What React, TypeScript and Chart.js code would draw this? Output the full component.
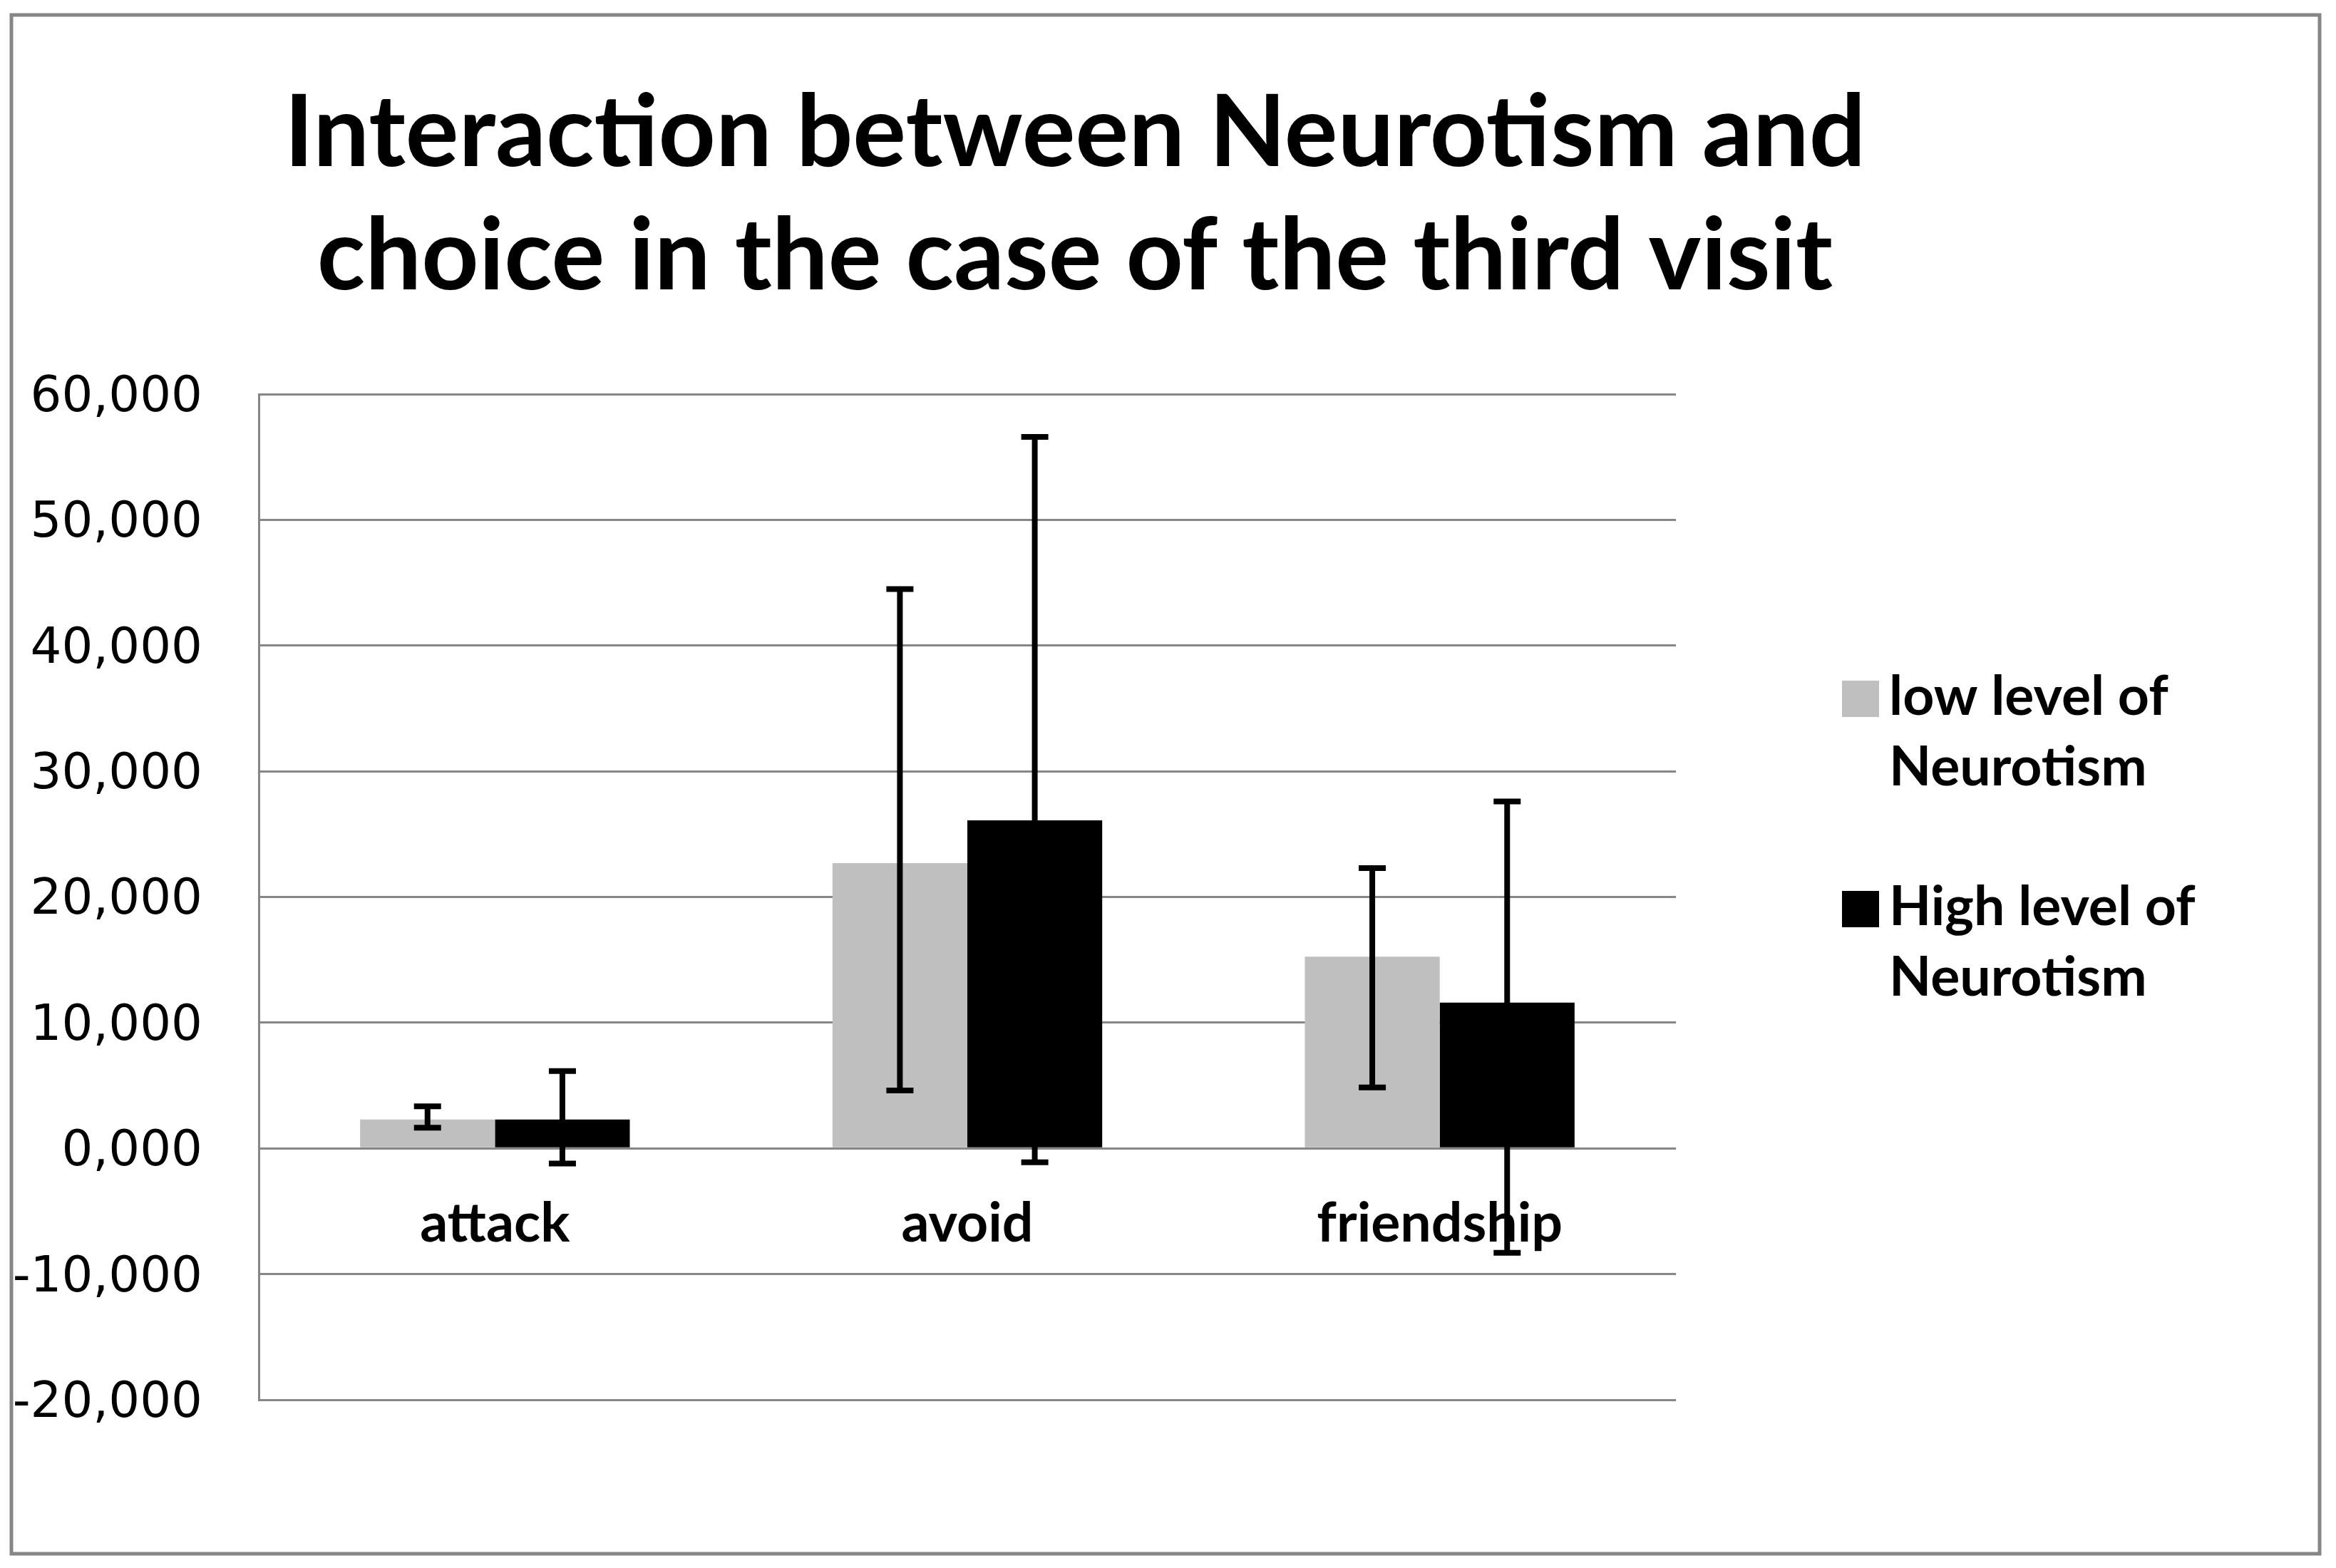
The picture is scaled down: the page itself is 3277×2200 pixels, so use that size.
import { useEffect, useRef } from 'react';
import { Chart, registerables } from 'chart.js';

Chart.register(...registerables);

const categories = ['attack', 'avoid', 'friendship'];
const seriesLabels = ['low level of Neurotism', 'High level of Neurotism'];
const legendLines = [['low level of', 'Neurotism'], ['High level of', 'Neurotism']];
const seriesColors = ['#BFBFBF', '#000000'];
const lowMeans = [2.3, 22.7, 15.25];
const highMeans = [2.3, 26.1, 11.6];
const lowErrUpper = [3.35, 44.5, 22.3];
const lowErrLower = [1.65, 4.6, 4.85];
const highErrUpper = [6.15, 56.6, 27.6];
const highErrLower = [-1.2, -1.1, -8.3];
const yMin = -20;
const yMax = 60;
const yStep = 10;
const titleLines = ['Interaction between Neurotism and', 'choice in the case of the third visit'];

const W = 3277;
const H = 2200;
const GRID = '#868686';

const errUpper = [lowErrUpper, highErrUpper];
const errLower = [lowErrLower, highErrLower];

const framePlugin = {
  id: 'frame',
  beforeDraw(chart: any) {
    const ctx = chart.ctx;
    ctx.save();
    ctx.fillStyle = '#ffffff';
    ctx.fillRect(0, 0, W, H);
    ctx.strokeStyle = GRID;
    ctx.lineWidth = 5;
    ctx.strokeRect(16, 21, 3238, 2159);
    ctx.restore();
  },
};

const errorBarPlugin = {
  id: 'errorBars',
  afterDatasetsDraw(chart: any) {
    const ctx = chart.ctx;
    const y = chart.scales.y;
    ctx.save();
    ctx.strokeStyle = '#000000';
    ctx.lineWidth = 8;
    ctx.lineCap = 'butt';
    chart.data.datasets.forEach((_ds: any, i: number) => {
      const meta = chart.getDatasetMeta(i);
      meta.data.forEach((el: any, j: number) => {
        const x = el.x;
        const yt = y.getPixelForValue(errUpper[i][j]);
        const yb = y.getPixelForValue(errLower[i][j]);
        ctx.beginPath();
        ctx.moveTo(x, yt);
        ctx.lineTo(x, yb);
        ctx.moveTo(x - 19, yt);
        ctx.lineTo(x + 19, yt);
        ctx.moveTo(x - 19, yb);
        ctx.lineTo(x + 19, yb);
        ctx.stroke();
      });
    });
    ctx.restore();
  },
};

const textPlugin = {
  id: 'titleLegend',
  afterDraw(chart: any) {
    const ctx = chart.ctx;
    ctx.save();
    ctx.fillStyle = '#000000';
    ctx.font = 'bold 140px Lato';
    ctx.textAlign = 'center';
    ctx.textBaseline = 'alphabetic';
    ctx.fillText(titleLines[0], 1508, 233);
    ctx.fillText(titleLines[1], 1508, 406);

    ctx.font = 'bold 77px Lato';
    ctx.textAlign = 'left';
    const baselines = [1003, 1298];
    chart.data.datasets.forEach((ds: any, i: number) => {
      const b = baselines[i];
      ctx.fillStyle = ds.backgroundColor;
      ctx.fillRect(2584, b - 48, 52, 51);
      ctx.fillStyle = '#000000';
      legendLines[i].forEach((line, k) => {
        ctx.fillText(line, 2650, b + k * 99);
      });
    });
    ctx.restore();
  },
};

export default function App() {
  const ref = useRef<HTMLCanvasElement | null>(null);
  useEffect(() => {
    document.body.style.margin = '0';
    document.body.style.overflow = 'hidden';
    const canvas = ref.current!;
    const chart = new Chart(canvas, {
      type: 'bar',
      data: {
        labels: categories,
        datasets: [
          {
            label: seriesLabels[0],
            data: lowMeans,
            backgroundColor: seriesColors[0],
            borderWidth: 0,
            categoryPercentage: 0.571,
            barPercentage: 1,
          },
          {
            label: seriesLabels[1],
            data: highMeans,
            backgroundColor: seriesColors[1],
            borderWidth: 0,
            categoryPercentage: 0.571,
            barPercentage: 1,
          },
        ],
      },
      options: {
        responsive: false,
        animation: false,
        devicePixelRatio: 1,
        layout: { padding: { left: 0, right: 926, top: 553, bottom: 236 } },
        plugins: {
          legend: { display: false },
          title: { display: false },
          tooltip: { enabled: false },
        },
        scales: {
          x: {
            position: { y: 0 } as any,
            grid: { display: false, drawTicks: false },
            border: { display: false },
            ticks: {
              color: '#000000',
              font: { family: 'Lato', weight: 'bold', size: 77 },
              padding: 60,
              maxRotation: 0,
            },
          },
          y: {
            min: yMin,
            max: yMax,
            afterFit: (scale: any) => {
              scale.width = 363;
            },
            grid: { color: GRID, lineWidth: 3, drawTicks: false },
            border: { display: true, color: GRID, width: 3 },
            ticks: {
              stepSize: yStep,
              color: '#000000',
              font: { family: 'DejaVu Sans', size: 69 },
              padding: 79,
              labelOffset: 6,
              callback: (v: any) => Number(v).toFixed(3).replace('.', ','),
            },
          },
        },
      },
      plugins: [framePlugin, errorBarPlugin, textPlugin],
    });
    return () => chart.destroy();
  }, []);
  return (
    <div style={{ position: 'absolute', left: 0, top: 0, width: W, height: H }}>
      <canvas ref={ref} width={W} height={H} style={{ width: W, height: H, display: 'block' }} />
    </div>
  );
}
